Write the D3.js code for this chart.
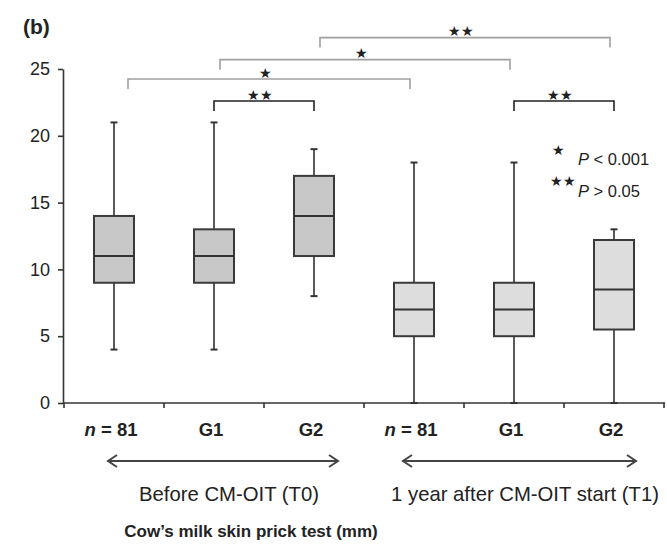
<!DOCTYPE html>
<html><head><meta charset="utf-8">
<script src="https://cdn.jsdelivr.net/npm/d3@7"></script>
<style>
body{margin:0;background:#fff;}
text{font-family:"Liberation Sans",Arial,sans-serif;fill:#222;}
</style></head>
<body><svg id="c" width="667" height="544"></svg>
<script>
const categories = ["n = 81","G1","G2","n = 81","G1","G2"];
const periods = ["T0","T0","T0","T1","T1","T1"];
const mins    = [4, 4, 8, 0, 0, 0];
const q1s     = [9, 9, 11, 5, 5, 5.5];
const medians = [11, 11, 14, 7, 7, 8.5];
const q3s     = [14, 13, 17, 9, 9, 12.2];
const maxs    = [21, 21, 19, 18, 18, 13];
const yTicks  = [0, 5, 10, 15, 20, 25];
const periodLabels = ["Before CM-OIT (T0)", "1 year after CM-OIT start (T1)"];
const comparisons = [
  {a:0, b:3, level:24.25, mark:"★",  dark:false},
  {a:1, b:2, level:22.6,  mark:"★★", dark:true},
  {a:1, b:4, level:25.7,  mark:"★",  dark:false},
  {a:2, b:5, level:27.35, mark:"★★", dark:false},
  {a:4, b:5, level:22.6,  mark:"★★", dark:true}
];
const legendMarks = ["★","★★"];
const legendTexts = [" < 0.001"," > 0.05"];

const svg = d3.select("#c");
const idx = d3.range(categories.length);
const x = d3.scaleBand().domain(idx).range([64, 664]).padding(0);
const y = d3.scaleLinear().domain([0, 25]).range([403, 69]);
const bw = x.bandwidth() * 0.4;
const cx = i => x(i) + x.bandwidth() / 2;

// title
svg.append("text").attr("x", 23).attr("y", 34).attr("font-size", 21).attr("font-weight", "bold").text("(b)");

// y axis
const ya = svg.append("g").attr("transform", "translate(63,0)")
  .call(d3.axisLeft(y).tickValues(yTicks).tickSize(5).tickSizeOuter(0).tickPadding(8));
ya.select(".domain").attr("stroke", "#333").attr("stroke-width", 1.6);
ya.selectAll(".tick line").attr("stroke", "#333").attr("stroke-width", 1.6);
ya.selectAll(".tick text").attr("font-size", 18).attr("fill", "#222").attr("font-family", "Liberation Sans, Arial, sans-serif");

// x axis
const xa = svg.append("g").attr("transform", "translate(0,403)");
xa.append("line").attr("x1", 63).attr("x2", 665).attr("stroke", "#333").attr("stroke-width", 1.6);
xa.selectAll("line.t").data(d3.range(categories.length + 1)).join("line").attr("class", "t")
  .attr("x1", i => 64 + i * x.bandwidth()).attr("x2", i => 64 + i * x.bandwidth())
  .attr("y1", 0).attr("y2", 5).attr("stroke", "#333").attr("stroke-width", 1.6);

// category labels
const cl = svg.selectAll("text.cat").data(idx).join("text").attr("class", "cat")
  .attr("x", i => cx(i) - 3).attr("y", 436).attr("text-anchor", "middle")
  .attr("font-size", 18.5).attr("font-weight", "bold");
cl.each(function(i){
  const t = d3.select(this);
  const s = categories[i];
  if (s.startsWith("n")) {
    t.append("tspan").attr("font-style", "italic").text("n");
    t.append("tspan").text(s.slice(1));
  } else t.text(s);
});

// boxes
const g = svg.append("g");
idx.forEach(i => {
  const c = cx(i);
  const wc = "#5a5a5a";
  g.append("line").attr("x1", c).attr("x2", c).attr("y1", y(q3s[i])).attr("y2", y(maxs[i])).attr("stroke", wc).attr("stroke-width", 2);
  g.append("line").attr("x1", c).attr("x2", c).attr("y1", y(q1s[i])).attr("y2", y(mins[i])).attr("stroke", wc).attr("stroke-width", 2);
  g.append("line").attr("x1", c - 3.5).attr("x2", c + 3.5).attr("y1", y(maxs[i])).attr("y2", y(maxs[i])).attr("stroke", "#333").attr("stroke-width", 2);
  g.append("line").attr("x1", c - 3.5).attr("x2", c + 3.5).attr("y1", y(mins[i])).attr("y2", y(mins[i])).attr("stroke", "#333").attr("stroke-width", 2);
  g.append("rect").attr("x", c - bw / 2).attr("width", bw)
    .attr("y", y(q3s[i])).attr("height", y(q1s[i]) - y(q3s[i]))
    .attr("fill", periods[i] === "T0" ? "#c8c8c8" : "#dddddd")
    .attr("stroke", "#3a3a3a").attr("stroke-width", 2);
  g.append("line").attr("x1", c - bw / 2).attr("x2", c + bw / 2).attr("y1", y(medians[i])).attr("y2", y(medians[i]))
    .attr("stroke", "#333").attr("stroke-width", 2);
});

// comparison brackets
comparisons.forEach(d => {
  const x1 = cx(d.a) + (d.a === 0 ? 14 : (d.dark ? 0 : 6));
  const x2 = cx(d.b) + (d.dark ? 0 : -4);
  const yl = y(d.level);
  const col = d.dark ? "#222" : "#a0a0a0";
  svg.append("path").attr("d", `M${x1},${yl + 10}V${yl}H${x2}V${yl + 10}`)
    .attr("fill", "none").attr("stroke", col).attr("stroke-width", 1.6);
  svg.append("text").attr("x", (x1 + x2) / 2 - 4).attr("y", yl - 1.5).attr("text-anchor", "middle")
    .attr("font-size", 14).attr("font-family", "DejaVu Sans").attr("fill", "#1a1a40").text(d.mark);
});

// legend
legendMarks.forEach((m, k) => {
  svg.append("text").attr("x", 558 + k * 5).attr("y", 155 + k * 31).attr("text-anchor", "middle")
    .attr("font-size", 13.5).attr("font-family", "DejaVu Sans").attr("fill", "#1a1a40").text(m);
  const t = svg.append("text").attr("x", 578).attr("y", 165 + k * 32).attr("font-size", 16.5);
  t.append("tspan").attr("font-style", "italic").text("P");
  t.append("tspan").text(legendTexts[k]);
});

// period arrows
const arrowEnds = [[0, 2, 44, 74], [3, 5, 39, 72]];
arrowEnds.forEach((a, k) => {
  const x1 = x(a[0]) + a[2], x2 = x(a[1]) + a[3];
  const yy = 461;
  svg.append("path").attr("d", `M${x1},${yy}H${x2}`).attr("stroke", "#444").attr("stroke-width", 2).attr("fill", "none");
  svg.append("path").attr("d", `M${x1 + 9},${yy - 6}L${x1},${yy}L${x1 + 9},${yy + 6}`).attr("stroke", "#444").attr("stroke-width", 2).attr("fill", "none");
  svg.append("path").attr("d", `M${x2 - 9},${yy - 6}L${x2},${yy}L${x2 - 9},${yy + 6}`).attr("stroke", "#444").attr("stroke-width", 2).attr("fill", "none");
  svg.append("text").attr("x", k === 0 ? 229 : 525).attr("y", 501).attr("text-anchor", "middle")
    .attr("font-size", 20.3).text(periodLabels[k]);
});

svg.append("text").attr("x", 251).attr("y", 537).attr("text-anchor", "middle")
  .attr("font-size", 17).attr("font-weight", "bold").text("Cow\u2019s milk skin prick test (mm)");
</script></body></html>
